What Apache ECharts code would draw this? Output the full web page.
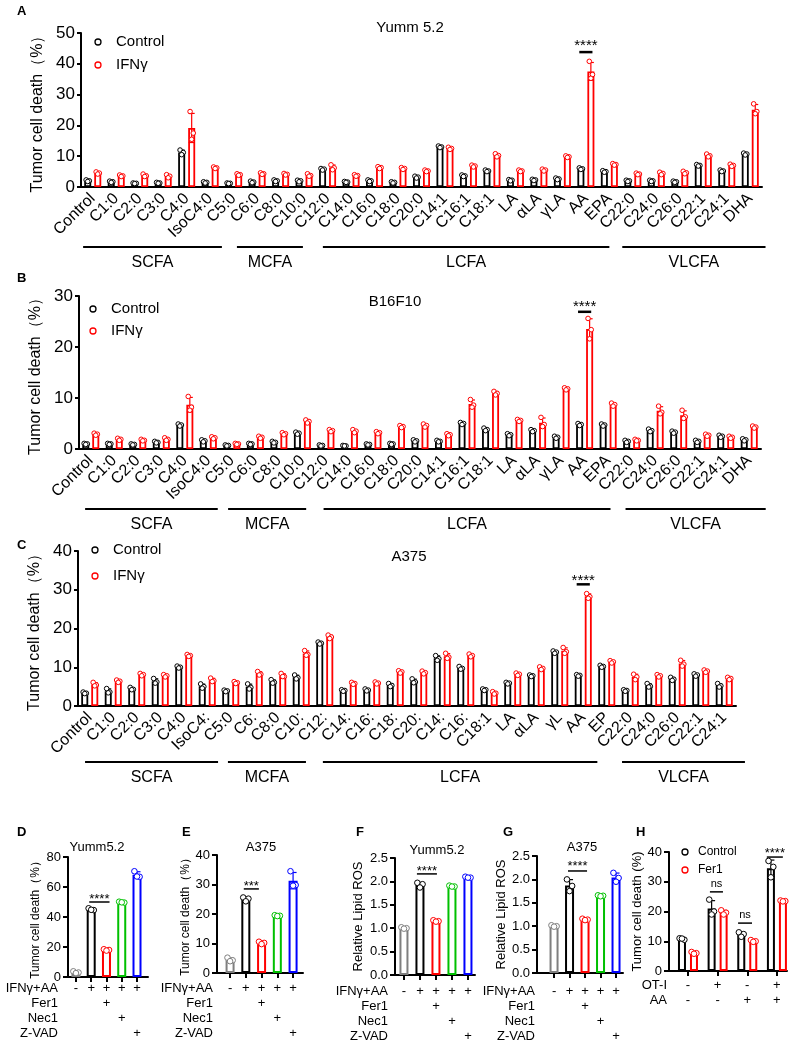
<!DOCTYPE html>
<html>
<head>
<meta charset="utf-8">
<script src="https://cdn.jsdelivr.net/npm/echarts@6/dist/echarts.min.js"></script>
<style>
  html, body { margin: 0; background: #fff; }
  #main { width: 799px; height: 1050px; }
</style>
</head>
<body>
<div id="main"></div>
<script>
var FONT = 'Arial, "Liberation Sans", sans-serif';

// ---------- panels A / B : fatty acid screen, triplicates ----------
var acidsAB = ['Control', 'C1:0', 'C2:0', 'C3:0', 'C4:0', 'IsoC4:0', 'C5:0', 'C6:0', 'C8:0', 'C10:0',
  'C12:0', 'C14:0', 'C16:0', 'C18:0', 'C20:0', 'C14:1', 'C16:1', 'C18:1', 'LA', 'αLA', 'γLA', 'AA', 'EPA',
  'C22:0', 'C24:0', 'C26:0', 'C22:1', 'C24:1', 'DHA'];
var acidsC = ['Control', 'C1:0', 'C2:0', 'C3:0', 'C4:0', 'IsoC4:', 'C5:0', 'C6:', 'C8:0', 'C10:',
  'C12:', 'C14:', 'C16:', 'C18:', 'C20:', 'C14:', 'C16:', 'C18:1', 'LA', 'αLA', 'γL', 'AA', 'EP',
  'C22:0', 'C24:0', 'C26:0', 'C22:1', 'C24:1'];

var yummCtrl = [[2.3,2.0,1.8],[1.9,1.7,1.5],[1.3,1.2,1.1],[1.5,1.3,1.2],[12.0,11.2,10.5],[1.7,1.5,1.3],
  [1.3,1.2,1.1],[1.9,1.6,1.4],[2.3,2.0,1.8],[2.2,2.0,1.7],[6.0,5.8,5.5],[1.8,1.6,1.5],[2.3,2.0,1.8],
  [1.7,1.5,1.3],[3.5,3.2,2.9],[13.3,13.0,12.8],[3.9,3.6,3.4],[5.5,5.2,5.0],[2.4,2.2,2.0],[2.5,2.3,2.1],
  [2.9,2.6,2.4],[6.2,5.9,5.7],[5.3,5.0,4.8],[2.2,2.0,1.8],[2.2,2.0,1.8],[1.9,1.7,1.5],[7.3,7.0,6.8],
  [5.5,5.2,5.0],[11.0,10.7,10.4]];
var yummIfn = [[4.9,4.5,4.2],[3.9,3.6,3.4],[4.2,3.6,3.4],[4.0,3.5,3.0],[24.5,17.5,15.5],[6.5,6.2,6.0],
  [4.3,4.0,3.8],[4.6,4.3,4.1],[4.4,4.1,3.9],[4.3,3.7,3.5],[7.2,6.2,5.6],[4.0,3.7,3.5],[6.6,6.3,6.0],
  [6.3,6.0,5.7],[5.5,5.2,5.0],[12.9,12.5,12.2],[7.1,6.8,6.5],[10.8,10.2,9.8],[5.5,5.2,5.0],[5.8,5.5,5.2],
  [10.1,9.8,9.6],[40.8,36.5,35.3],[7.6,7.3,7.1],[4.5,4.2,4.0],[4.8,4.4,4.0],[5.1,4.6,4.3],[10.7,10.1,9.8],
  [7.4,7.0,6.7],[27.0,24.5,23.8]];

var b16Ctrl = [[1.1,1.0,0.9],[1.1,1.0,0.9],[1.0,0.9,0.8],[1.5,1.3,1.2],[4.9,4.7,4.5],[1.8,1.6,1.4],
  [0.8,0.7,0.6],[1.1,1.0,0.9],[1.5,1.3,1.2],[3.3,3.1,2.9],[0.8,0.7,0.6],[0.7,0.6,0.6],[1.0,0.9,0.8],
  [1.1,1.0,0.9],[1.8,1.6,1.4],[1.7,1.5,1.4],[5.2,5.0,4.8],[4.1,3.8,3.6],[3.0,2.8,2.6],[3.8,3.6,3.4],
  [2.5,2.3,2.1],[5.0,4.8,4.6],[4.9,4.7,4.5],[1.7,1.5,1.3],[3.9,3.6,3.4],[3.5,3.3,3.1],[1.7,1.5,1.3],
  [2.7,2.5,2.3],[2.0,1.8,1.6]];
var b16Ifn = [[3.1,2.9,2.7],[2.1,1.9,1.7],[1.9,1.7,1.6],[2.2,1.9,1.7],[10.3,8.2,7.6],[2.4,2.2,2.0],
  [1.1,1.0,0.9],[2.5,2.3,2.1],[3.2,3.0,2.8],[5.7,5.4,5.1],[3.8,3.6,3.4],[3.8,3.5,3.2],[3.4,3.2,3.0],
  [4.6,4.4,4.2],[4.9,4.6,4.3],[3.0,2.8,2.6],[9.7,8.6,8.2],[11.3,10.9,10.6],[5.8,5.6,5.4],[6.2,4.8,4.4],
  [12.0,11.8,11.6],[25.6,23.4,21.6],[9.0,8.7,8.4],[1.9,1.7,1.6],[8.4,7.2,6.9],[7.6,6.3,6.0],[2.9,2.7,2.5],
  [2.5,2.3,2.1],[4.5,4.3,4.1]];

var a375Ctrl = [[3.6,3.3,3.2],[4.5,3.6,3.4],[4.8,4.3,4.2],[7.1,6.2,5.9],[10.3,10.0,9.8],[5.7,5.0,4.6],
  [4.1,3.9,3.7],[5.7,4.8,4.4],[6.8,6.1,5.9],[8.0,7.3,7.0],[16.5,16.2,16.0],[4.2,4.0,3.8],[4.4,4.1,3.9],
  [5.8,5.3,5.0],[7.0,6.2,6.0],[13.0,12.2,11.8],[10.2,9.7,9.5],[4.4,4.2,4.0],[6.1,5.9,5.7],[8.0,7.8,7.6],
  [14.2,13.9,13.6],[8.1,7.9,7.7],[10.5,10.2,10.0],[4.2,4.0,3.8],[5.8,5.1,4.9],[7.4,6.9,6.6],[8.3,8.0,7.7],
  [5.8,5.2,4.9]];
var a375Ifn = [[6.1,5.4,5.2],[6.7,6.4,6.1],[8.4,8.1,7.8],[8.1,7.8,7.5],[13.3,13.0,12.8],[7.2,6.5,6.3],
  [6.3,6.0,5.8],[8.9,8.2,8.0],[8.4,7.6,7.6],[14.3,13.3,13.1],[18.3,17.8,17.4],[6.1,5.8,5.6],[6.2,5.9,5.7],
  [9.1,8.8,8.5],[9.0,8.6,8.3],[13.6,12.6,12.3],[13.4,13.0,12.7],[3.7,3.3,3.1],[8.5,8.2,7.9],[10.1,9.7,9.4],
  [15.1,14.0,13.6],[29.0,28.2,27.8],[11.7,11.4,11.1],[8.2,7.5,6.8],[8.1,7.8,7.5],[11.8,10.8,10.3],[9.3,9.0,8.7],
  [7.4,7.1,6.8]];

// ---------- panels D-G : inhibitors ----------
var inhibColors = ['#7f7f7f', '#000000', '#ff0000', '#00c000', '#0000ff'];
var deathYumm = [[3.8,3.0,2.6],[45.8,44.6,44.8],[18.5,18.0,17.6],[50.2,49.6,49.8],[70.5,66.8,67.0]];
var deathA375 = [[5.2,4.3,4.0],[25.6,25.2,24.3],[10.6,10.2,9.8],[19.6,19.4,19.3],[34.5,29.8,29.6]];
var rosYumm = [[1.02,1.00,0.99],[1.97,1.94,1.87],[1.17,1.15,1.14],[1.91,1.89,1.89],[2.10,2.08,2.08]];
var rosA375 = [[1.02,1.00,0.99],[2.00,1.86,1.75],[1.16,1.14,1.13],[1.66,1.65,1.64],[2.14,2.03,1.95]];
var inhibRows = ['IFNγ+AA', 'Fer1', 'Nec1', 'Z-VAD'];
var inhibSigns = [['-','+','+','+','+'], ['','','+','',''], ['','','','+',''], ['','','','','+']];

// ---------- panel H : OT-I co-culture ----------
var otCtrl = [[11.0,10.5,10.9],[24.0,20.0,19.0],[13.0,12.4,11.5],[37.0,35.0,31.5]];
var otFer1 = [[6.4,6.0,5.8],[20.4,19.6,19.0],[10.4,10.0,9.8],[23.7,23.5,23.4]];
var otRows = ['OT-I', 'AA'];
var otSigns = [['-','+','-','+'], ['-','-','+','+']];

function mean(a) { return a.reduce(function (s, v) { return s + v; }, 0) / a.length; }
function sd(a) {
  var m = mean(a);
  return Math.sqrt(a.reduce(function (s, v) { return s + (v - m) * (v - m); }, 0) / (a.length - 1));
}

var grids = [], xAxes = [], yAxes = [], series = [];

function yAxisOf(gi, max, step, fs, nameFs, name, gap, fmt, tickLen) {
  return {
    gridIndex: gi, type: 'value', min: 0, max: max, interval: step,
    axisLine: { show: true, onZero: false, lineStyle: { color: '#000', width: 2 } },
    axisTick: { show: true, length: tickLen, lineStyle: { color: '#000', width: 2 } },
    splitLine: { show: false },
    axisLabel: { color: '#000', fontSize: fs, fontFamily: FONT, margin: tickLen + 2, formatter: fmt },
    name: name, nameLocation: 'middle', nameGap: gap,
    nameTextStyle: { color: '#000', fontSize: nameFs, fontFamily: FONT }
  };
}

function openBar(gi, data, col, bw, gap) {
  return {
    type: 'bar', xAxisIndex: gi, yAxisIndex: gi, barWidth: bw, barGap: gap, z: 2, silent: true,
    data: data, itemStyle: { color: '#fff', borderColor: col, borderWidth: 1.8 }
  };
}

// error bar (mean ± SD) plus the three replicate dots
function errDots(gi, reps, colorOf, off, jit, r, cap) {
  return {
    type: 'custom', xAxisIndex: gi, yAxisIndex: gi, z: 4, silent: true,
    encode: { x: 0, y: 1 },
    data: reps.map(function (rep, i) { return [i, mean(rep), sd(rep), rep[0], rep[1], rep[2]]; }),
    renderItem: function (params, api) {
      var i = api.value(0), m = api.value(1), s = api.value(2);
      var col = colorOf(i);
      var x = api.coord([i, m])[0] + off;
      var yTop = api.coord([i, m + s])[1];
      var yBot = api.coord([i, Math.max(m - s, 0)])[1];
      var ln = { stroke: col, lineWidth: 1.2 };
      var kids = [
        { type: 'line', shape: { x1: x, y1: yTop, x2: x, y2: yBot }, style: ln },
        { type: 'line', shape: { x1: x - cap, y1: yTop, x2: x + cap, y2: yTop }, style: ln },
        { type: 'line', shape: { x1: x - cap, y1: yBot, x2: x + cap, y2: yBot }, style: ln }
      ];
      for (var k = 0; k < 3; k++) {
        kids.push({
          type: 'circle',
          shape: { cx: x + jit[k], cy: api.coord([i, api.value(3 + k)])[1], r: r },
          style: { fill: '#fff', stroke: col, lineWidth: 1 }
        });
      }
      return { type: 'group', children: kids };
    }
  };
}

function topPanel(gi, box, cats, ctrl, ifn, yMax, gap) {
  grids.push({ left: box[0], top: box[1], width: box[2], height: box[3] });
  xAxes.push({
    gridIndex: gi, type: 'category', data: cats.map(function (c, i) { return String(i); }),
    axisLine: { lineStyle: { color: '#000', width: 2 } },
    axisTick: { alignWithLabel: true, length: 6, lineStyle: { color: '#000', width: 2 } },
    axisLabel: {
      interval: 0, rotate: 45, margin: 9, color: '#000', fontSize: 16, fontFamily: FONT,
      formatter: function (v) { return cats[+v]; }
    }
  });
  yAxes.push(yAxisOf(gi, yMax, 10, 17, 16, 'Tumor cell death（%）', gap, null, 4));
  var jit = [-1.6, 1.6, 0];
  series.push(openBar(gi, ctrl.map(mean), '#000', 7, '43%'));
  series.push(openBar(gi, ifn.map(mean), '#ff0000', 7, '43%'));
  series.push(errDots(gi, ctrl, function () { return '#000'; }, -5, jit, 2.3, 3));
  series.push(errDots(gi, ifn, function () { return '#ff0000'; }, 5, jit, 2.3, 3));
}

function smallAxes(gi, box, xr, ticks, yMax, step, name, nameFs, gap, fmt) {
  grids.push({ left: box[0], top: box[1], width: box[2], height: box[3] });
  xAxes.push({
    gridIndex: gi, type: 'value', min: xr[0], max: xr[1],
    axisLine: { lineStyle: { color: '#000', width: 2 } },
    axisTick: { show: true, customValues: ticks, length: 5, lineStyle: { color: '#000', width: 2 } },
    axisLabel: { show: false }, splitLine: { show: false }
  });
  yAxes.push(yAxisOf(gi, yMax, step, 13, nameFs, name, gap, fmt, 5));
}

function inhibPanel(gi, box, xr, reps, yMax, step, name, nameFs, gap, fmt) {
  smallAxes(gi, box, xr, [0, 1, 2, 3, 4], yMax, step, name, nameFs, gap, fmt);
  series.push({
    type: 'bar', xAxisIndex: gi, yAxisIndex: gi, barWidth: 9, z: 2, silent: true,
    data: reps.map(function (r, i) {
      return { value: [i, mean(r)], itemStyle: { color: '#fff', borderColor: inhibColors[i], borderWidth: 2 } };
    })
  });
  series.push(errDots(gi, reps, function (i) { return inhibColors[i]; }, 0, [-2.6, 2.6, 0], 2.8, 3.5));
}

var fmt1 = function (v) { return v.toFixed(1); };

topPanel(0, [81, 33, 681, 154], acidsAB, yummCtrl, yummIfn, 50, 35);
topPanel(1, [79, 296, 682, 153], acidsAB, b16Ctrl, b16Ifn, 30, 33);
topPanel(2, [78, 551, 658, 155], acidsC, a375Ctrl, a375Ifn, 40, 32);

inhibPanel(3, [68, 857, 80, 120], [-0.52, 4.72], deathYumm, 80, 20, 'Tumor cell death（%）', 12, 26);
inhibPanel(4, [217, 855, 86, 118], [-0.83, 4.63], deathA375, 40, 10, 'Tumor cell death（%）', 12, 23);
inhibPanel(5, [395, 858, 80, 117], [-0.56, 4.44], rosYumm, 2.5, 0.5, 'Relative Lipid ROS', 13, 30, fmt1);
inhibPanel(6, [537, 856, 86, 117], [-1.1, 4.45], rosA375, 2.5, 0.5, 'Relative Lipid ROS', 13, 25, fmt1);

smallAxes(7, [669, 852, 118, 119], [-0.64, 3.34], [0, 1, 2, 3], 40, 10, 'Tumor cell death (%)', 13, 17);
series.push({
  type: 'bar', xAxisIndex: 7, yAxisIndex: 7, barWidth: 8, barGap: '50%', z: 2, silent: true,
  data: otCtrl.map(function (r, i) { return [i, mean(r)]; }),
  itemStyle: { color: '#fff', borderColor: '#000', borderWidth: 2 }
});
series.push({
  type: 'bar', xAxisIndex: 7, yAxisIndex: 7, barWidth: 8, barGap: '50%', z: 2, silent: true,
  data: otFer1.map(function (r, i) { return [i, mean(r)]; }),
  itemStyle: { color: '#fff', borderColor: '#ff0000', borderWidth: 2 }
});
series.push(errDots(7, otCtrl, function () { return '#000'; }, -6, [-2.4, 2.4, 0], 2.8, 3.5));
series.push(errDots(7, otFer1, function () { return '#ff0000'; }, 6, [-2.4, 2.4, 0], 2.8, 3.5));

var myChart = echarts.init(document.getElementById('main'));
myChart.setOption({
  animation: false,
  textStyle: { fontFamily: FONT },
  grid: grids, xAxis: xAxes, yAxis: yAxes, series: series
});

// ---------- annotations placed through the axes ----------
function px(gi, v) { return myChart.convertToPixel({ xAxisIndex: gi }, v); }
function py(gi, v) { return myChart.convertToPixel({ yAxisIndex: gi }, v); }
function catX(gi, f) { var a = px(gi, 0), b = px(gi, 1); return a + f * (b - a); }

var g = [];
function txt(x, y, s, fs, align, weight, va) {
  g.push({ type: 'text', x: x, y: y, z: 10, style: {
    text: s, fill: '#000', fontSize: fs, fontFamily: FONT, fontWeight: weight || 'normal',
    textAlign: align || 'center', textVerticalAlign: va || 'middle' } });
}
function seg(x1, y1, x2, y2, w) {
  g.push({ type: 'line', z: 10, shape: { x1: x1, y1: y1, x2: x2, y2: y2 }, style: { stroke: '#000', lineWidth: w } });
}
function dot(x, y, col, r) {
  g.push({ type: 'circle', z: 10, shape: { cx: x, cy: y, r: r }, style: { fill: '#fff', stroke: col, lineWidth: 1.3 } });
}

// panel letters
[['A', 17, 11], ['B', 17, 278], ['C', 17, 545], ['D', 17, 832], ['E', 182, 832],
 ['F', 356, 832], ['G', 503, 832], ['H', 636, 832]].forEach(function (l) { txt(l[1], l[2], l[0], 13, 'left', 'bold'); });

// titles
txt(410, 28, 'Yumm 5.2', 15); txt(395, 302, 'B16F10', 15); txt(409, 557, 'A375', 15);
txt(97, 847, 'Yumm5.2', 13); txt(261, 847, 'A375', 13); txt(437, 850, 'Yumm5.2', 13); txt(582, 847, 'A375', 13);

// legends
[[98, 42, 65], [93, 309, 331], [95, 550, 576]].forEach(function (l) {
  dot(l[0], l[1], '#000', 3); txt(l[0] + 18, l[1], 'Control', 15, 'left');
  dot(l[0], l[2], '#ff0000', 3); txt(l[0] + 18, l[2], 'IFNγ', 15, 'left');
});
dot(685, 852, '#000', 3); txt(698, 852, 'Control', 12, 'left');
dot(685, 870, '#ff0000', 3); txt(698, 870, 'Fer1', 12, 'left');

// fatty-acid class brackets
var classes = [
  { gi: 0, y: 247, spans: [['SCFA', -0.41, 5.5], ['MCFA', 6.14, 8.95], ['LCFA', 9.8, 22.0], ['VLCFA', 22.55, 28.65]] },
  { gi: 1, y: 509, spans: [['SCFA', -0.24, 5.4], ['MCFA', 5.84, 9.16], ['LCFA', 9.9, 22.1], ['VLCFA', 22.74, 28.7]] },
  { gi: 2, y: 762, spans: [['SCFA', -0.2, 5.46], ['MCFA', 5.88, 9.2], ['LCFA', 9.92, 21.6], ['VLCFA', 22.65, 27.88]] }
];
classes.forEach(function (c) {
  c.spans.forEach(function (s) {
    var x1 = catX(c.gi, s[1]), x2 = catX(c.gi, s[2]);
    seg(x1, c.y, x2, c.y, 2);
    txt((x1 + x2) / 2, c.y + 16, s[0], 16);
  });
});

// significance marks: [grid, text, from, to, text y value, line y value, font]
var sigs = [
  [0, '****', 20.72, 21.28, 45.8, 43.8, 15],
  [1, '****', 20.72, 21.28, 27.8, 26.9, 15],
  [2, '****', 20.72, 21.28, 32.4, 31.4, 15],
  [3, '****', 0.87, 2.2, 52, 50, 13],
  [4, '***', 0.87, 1.83, 29.5, 28.5, 13],
  [5, '****', 0.81, 2.06, 2.21, 2.16, 13],
  [6, '****', 0.9, 2.13, 2.27, 2.18, 13],
  [7, 'ns', 0.74, 1.18, 29.2, 26.6, 11],
  [7, 'ns', 1.69, 2.16, 18.8, 16.1, 11],
  [7, '****', 2.66, 3.2, 39.6, 38.3, 13]
];
sigs.forEach(function (s) {
  var x1 = s[0] < 3 ? catX(s[0], s[2]) : px(s[0], s[2]);
  var x2 = s[0] < 3 ? catX(s[0], s[3]) : px(s[0], s[3]);
  seg(x1, py(s[0], s[5]), x2, py(s[0], s[5]), s[0] < 3 ? 2.5 : 1.5);
  txt((x1 + x2) / 2, py(s[0], s[4]), s[1], s[6]);
});

// treatment tables under D-H
[[3, 58, 988], [4, 213, 988], [5, 388, 991], [6, 535, 991]].forEach(function (p) {
  inhibRows.forEach(function (row, r) {
    var y = p[2] + r * 15;
    txt(p[1], y, row, 13, 'right');
    inhibSigns[r].forEach(function (s, i) { if (s) txt(px(p[0], i), y, s, 13); });
  });
});
otRows.forEach(function (row, r) {
  var y = 985 + r * 15;
  txt(667, y, row, 13, 'right');
  otSigns[r].forEach(function (s, i) { txt(px(7, i), y, s, 13); });
});

myChart.setOption({ graphic: g });
</script>
</body>
</html>
